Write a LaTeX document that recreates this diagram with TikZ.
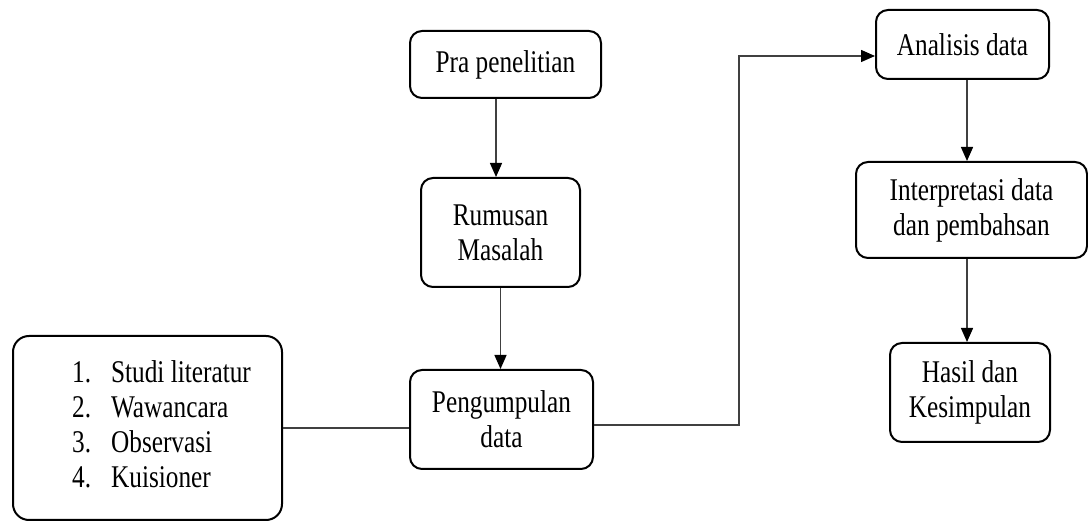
\documentclass[tikz,border=0pt]{standalone}
\usepackage{fontspec}
\setmainfont{Liberation Serif}[FakeStretch=0.8]
\usetikzlibrary{arrows.meta}
\tikzset{
	kotak/.style={draw, line width=1pt, rounded corners=6pt, align=center, inner sep=2pt},
	panah/.style={draw=black!75, line width=0.7pt, -{Triangle[length=7pt,width=6pt,color=black]}},
	garis/.style={draw=black!75, line width=0.7pt}
}
\begin{document}
\begin{tikzpicture}[x=0.5pt, y=-0.5pt, font=\fontsize{15.8}{17.5}\selectfont]
				\useasboundingbox (0,0) rectangle (1088,523);
				
				\node[kotak, minimum width=95.5pt, minimum height=33.5pt] (pra) at (505.5,64.5) {Pra penelitian};
				\node[kotak, minimum width=79.5pt, minimum height=54.5pt] (rumusan) at (500.5,232.5) {Rumusan\\Masalah};
				\node[kotak, minimum width=91.5pt, minimum height=49.5pt] (kumpul) at (501.5,419.5) {Pengumpulan\\data};
				\node[kotak, rounded corners=8pt, minimum width=134.5pt, minimum height=92pt] (list) at (147.5,428) {\hspace*{14pt}\begin{tabular}{@{}l@{}}
					\makebox[19.5pt][l]{1.}Studi literatur\\
					\makebox[19.5pt][l]{2.}Wawancara\\
					\makebox[19.5pt][l]{3.}Observasi\\
					\makebox[19.5pt][l]{4.}Kuisioner
				\end{tabular}};
				
				\node[kotak, minimum width=86.5pt, minimum height=34.5pt] (analisis) at (962.5,44.5) {Analisis data};
				\node[kotak, minimum width=115.5pt, minimum height=48pt] (interp) at (971.5,210) {Interpretasi data\\dan pembahsan};
				\node[kotak, minimum width=80pt, minimum height=49.5pt] (hasil) at (970,392.5) {Hasil dan\\Kesimpulan};
				
				\draw[panah] ([xshift=-4.75pt]pra.south) -- ([xshift=-4.75pt]pra.south |- rumusan.north);
				\draw[panah] (rumusan.south) -- (rumusan.south |- kumpul.north);
				\draw[garis] (list.east) -- (list.east -| kumpul.west);
				
				\coordinate (tekuk) at (739,56);
				\draw[panah] ([yshift=-2.75pt]kumpul.east) -| (tekuk) -- (tekuk -| analisis.west);
				\draw[panah] ([xshift=2.25pt]analisis.south) -- ([xshift=2.25pt]analisis.south |- interp.north);
				\draw[panah] ([xshift=-2.25pt]interp.south) -- ([xshift=-2.25pt]interp.south |- hasil.north);
\end{tikzpicture}
\end{document}
